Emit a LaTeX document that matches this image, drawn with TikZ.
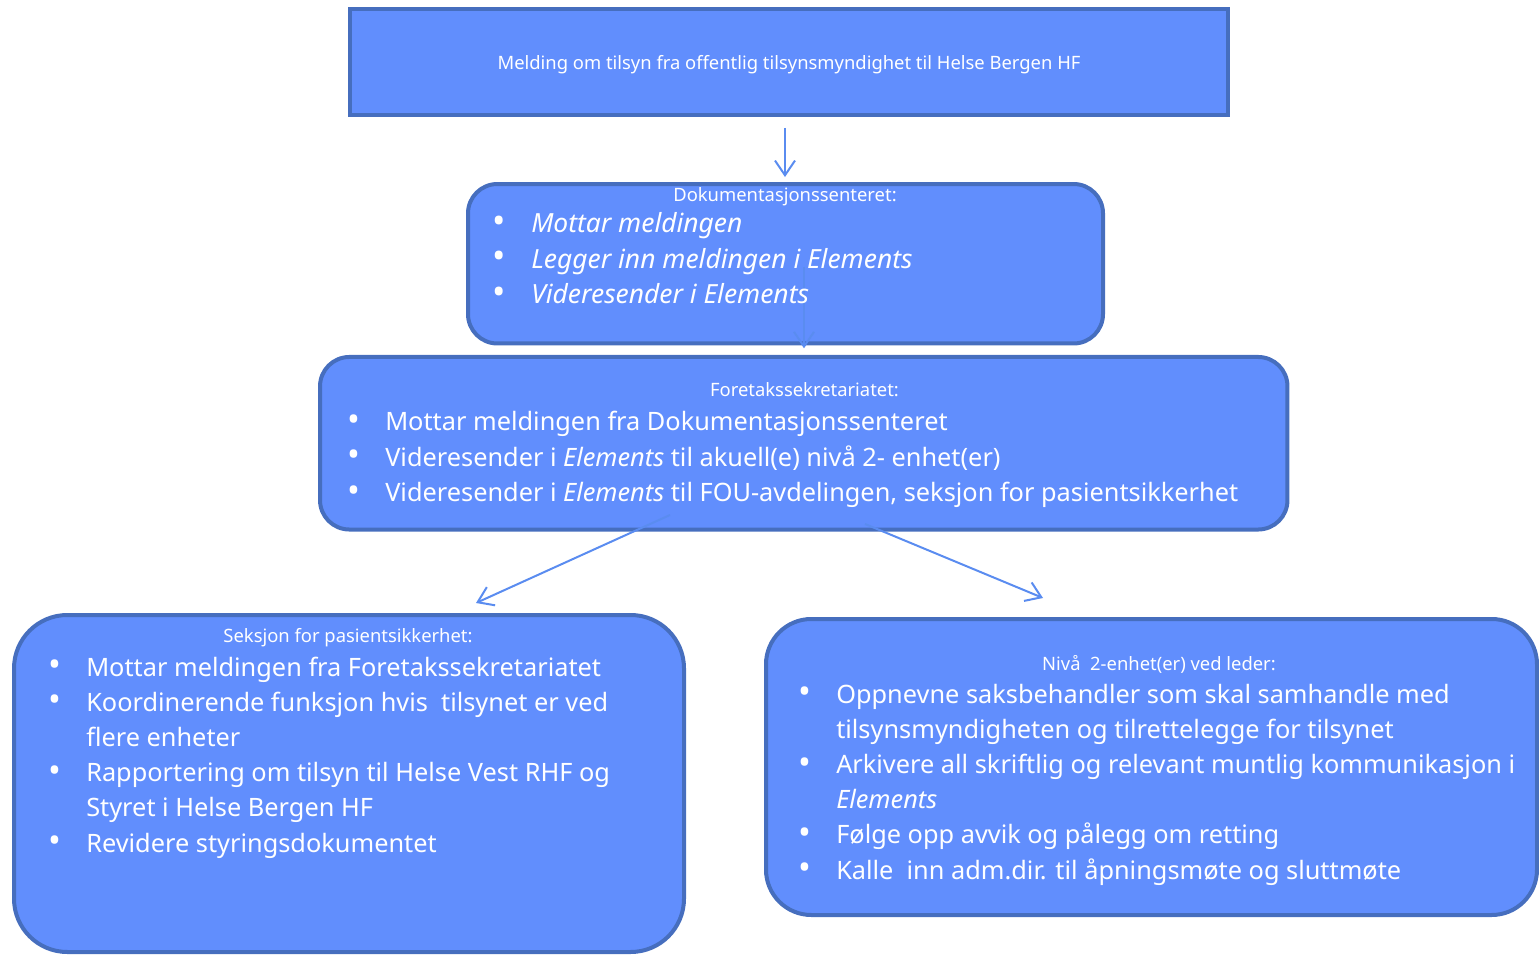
\documentclass[tikz,border=0pt]{standalone}
\usepackage{fontspec}
\setmainfont{Noto Sans}
\usetikzlibrary{arrows.meta}
\definecolor{boksfyll}{RGB}{97,142,253}
\definecolor{boksrand}{RGB}{70,110,190}
\definecolor{pilfarge}{RGB}{90,140,240}
\newcommand{\punkt}{\llap{\raisebox{-0.5pt}{\scalebox{1.35}{\upshape\textbullet}}\hspace{19pt}}}

\begin{document}
\begin{tikzpicture}[x=0.75pt,y=-0.75pt,
	boks/.style={draw=boksrand,fill=boksfyll,line width=3pt,inner sep=0pt},
	tittel/.style={text=white,font=\fontsize{13.8}{16}\selectfont,inner sep=0pt,anchor=base},
	liste/.style={text=white,font=\fontsize{19}{26.4}\selectfont,inner sep=0pt,anchor=base west},
	pil/.style={draw=pilfarge,line width=1.5pt,-{Straight Barb[length=11pt,width=15pt]}}]
	
	\useasboundingbox (0,0) rectangle (1539,955);
	
	\node[boks,minimum width=658.1pt,minimum height=79.5pt] (melding) at (789,62.5) {};
	\node[boks,rounded corners=22pt,minimum width=476.25pt,minimum height=119.6pt] (dok) at (785.5,263.75) {};
	\node[boks,rounded corners=22pt,minimum width=725.6pt,minimum height=129.4pt] (foretak) at (803.75,443.25) {};
	\node[boks,rounded corners=40pt,minimum width=502.5pt,minimum height=252.75pt] (seksjon) at (349,783.5) {};
	\node[boks,rounded corners=34pt,minimum width=578.25pt,minimum height=222pt] (niva) at (1151.5,767) {};
	
	\coordinate (p1) at (785,128);
	\coordinate (p2) at (804,267);
	\coordinate (p3) at (670,515);
	\coordinate (p3slutt) at (476,603);
	\coordinate (p4) at (865,524);
	\coordinate (p4slutt) at (1043,598);
	
	\draw[pil,shorten >=3.75pt] (p1) -- (p1 |- dok.north);
	\draw[pil,shorten >=5pt] (p2) -- (p2 |- foretak.north);
	\draw[pil] (p3) -- (p3slutt);
	\draw[pil] (p4) -- (p4slutt);
	
	\node[tittel] (meldingtekst) at (789,70) {Melding om tilsyn fra offentlig tilsynsmyndighet til Helse Bergen HF};
	\node[tittel] (doktittel) at (785,201.5) {Dokumentasjonssenteret:};
	\node[tittel] (foretaktittel) at (804.5,397) {Foretakssekretariatet:};
	\node[tittel] (seksjontittel) at (348,642.5) {Seksjon for pasientsikkerhet:};
	\node[tittel] (nivatittel) at (1159,670) {Nivå\ \ 2-enhet(er) ved leder:};
	
	\node[liste] (dokpunkter) at (531,233) {\fontsize{19.8}{26.4}\selectfont\itshape\begin{tabular}[t]{@{}l@{}}
		\punkt Mottar meldingen\\
		\punkt Legger inn meldingen i Elements\\
		\punkt Videresender i Elements
	\end{tabular}};
	\node[liste] (foretakpunkter) at (385,431) {\begin{tabular}[t]{@{}l@{}}
		\punkt Mottar meldingen fra Dokumentasjonssenteret\\
		\punkt Videresender i \textit{Elements} til akuell(e) nivå 2- enhet(er)\\
		\punkt Videresender i \textit{Elements} til FOU-avdelingen, seksjon for pasientsikkerhet
	\end{tabular}};
	\node[liste] (seksjonpunkter) at (86,676) {\begin{tabular}[t]{@{}l@{}}
		\punkt Mottar meldingen fra Foretakssekretariatet\\
		\punkt Koordinerende funksjon hvis\ \ tilsynet er ved\\
		flere enheter\\
		\punkt Rapportering om tilsyn til Helse Vest RHF og\\
		Styret i Helse Bergen HF\\
		\punkt Revidere styringsdokumentet
	\end{tabular}};
	\node[liste] (nivapunkter) at (836,703) {\begin{tabular}[t]{@{}l@{}}
		\punkt Oppnevne saksbehandler som skal samhandle med\\
		tilsynsmyndigheten og tilrettelegge for tilsynet\\
		\punkt Arkivere all skriftlig og relevant muntlig kommunikasjon i\\
		\textit{Elements}\\
		\punkt Følge opp avvik og pålegg om retting\\
		\punkt Kalle\ \ inn adm.dir. til åpningsmøte og sluttmøte
	\end{tabular}};
	
\end{tikzpicture}
\end{document}
